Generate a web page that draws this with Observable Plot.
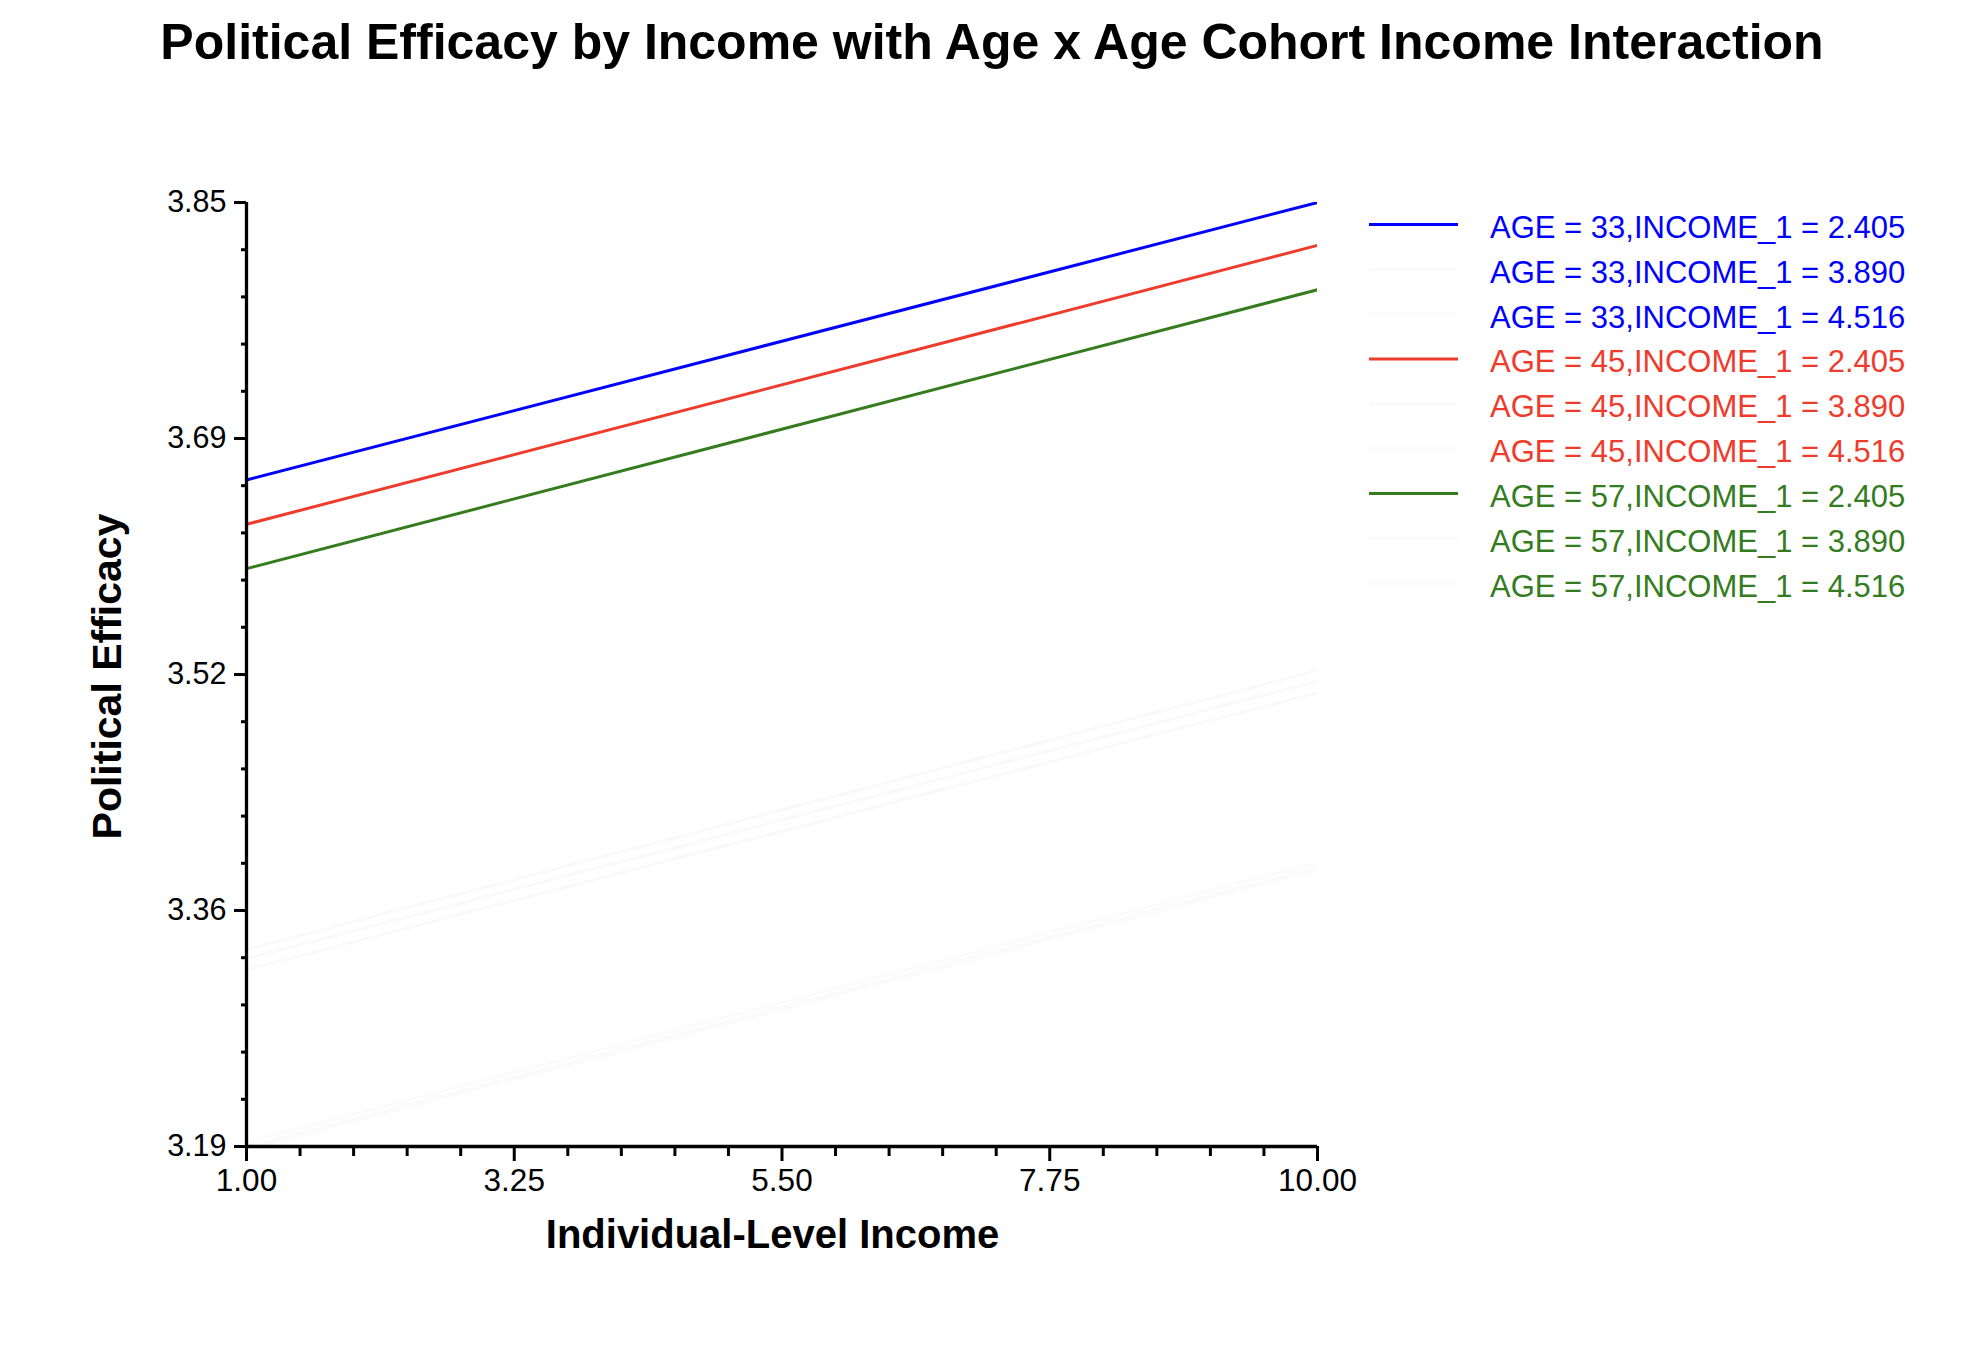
<!DOCTYPE html>
<html><head><meta charset="utf-8">
<script src="https://cdn.jsdelivr.net/npm/d3@7"></script>
<script src="https://cdn.jsdelivr.net/npm/@observablehq/plot@0.6"></script>
<style>
html,body{margin:0;padding:0;background:#fff;}
#wrap{position:relative;width:1966px;height:1350px;font-family:"Liberation Sans",Arial,Helvetica,sans-serif;}
#wrap svg{position:absolute;left:0;top:0;}
</style></head><body><div id="wrap"></div>
<script>
// ---- data ----
const incomeX = [1, 10];
const seriesLabels = [
  "AGE = 33,INCOME_1 = 2.405", "AGE = 33,INCOME_1 = 3.890", "AGE = 33,INCOME_1 = 4.516",
  "AGE = 45,INCOME_1 = 2.405", "AGE = 45,INCOME_1 = 3.890", "AGE = 45,INCOME_1 = 4.516",
  "AGE = 57,INCOME_1 = 2.405", "AGE = 57,INCOME_1 = 3.890", "AGE = 57,INCOME_1 = 4.516"
];
const seriesStart = [3.656, 3.3278, 3.193, 3.625, 3.3213, 3.190, 3.594, 3.3136, 3.188];
const seriesEnd   = [3.850, 3.5229, 3.3884, 3.820, 3.5152, 3.3853, 3.789, 3.5073, 3.3835];
const lineColors = ["#0000ff", "#f9f9f9", "#fbfbfb", "#ef3b2c", "#f9f9f9", "#fbfbfb", "#357c1f", "#f9f9f9", "#fbfbfb"];
const textColors = ["#0000ff", "#0000ff", "#0000ff", "#ef3b2c", "#ef3b2c", "#ef3b2c", "#357c1f", "#357c1f", "#357c1f"];
const yTicks = [3.19, 3.355, 3.52, 3.685, 3.85];
const yTickLabels = ["3.19", "3.36", "3.52", "3.69", "3.85"];
const xTicks = [1, 3.25, 5.5, 7.75, 10];
const xTickLabels = ["1.00", "3.25", "5.50", "7.75", "10.00"];
const titleText = "Political Efficacy by Income with Age x Age Cohort Income Interaction";
const xLabel = "Individual-Level Income";
const yLabel = "Political Efficacy";

// ---- derived ----
const rows = seriesLabels.flatMap((s, i) => [
  {series: s, x: incomeX[0], y: seriesStart[i]},
  {series: s, x: incomeX[1], y: seriesEnd[i]}
]);
const minor = (ticks) => {
  const out = [];
  for (let i = 0; i < ticks.length - 1; i++) {
    const a = ticks[i], b = ticks[i + 1];
    for (let k = 1; k < 5; k++) out.push(a + (b - a) * k / 5);
  }
  return out;
};
const xMap = new Map(xTicks.map((d, i) => [d, xTickLabels[i]]));
const yMap = new Map(yTicks.map((d, i) => [d, yTickLabels[i]]));
const font = '"Liberation Sans", Arial, Helvetica, sans-serif';

const W = 1966, H = 1350;
const mL = 246, mR = 649, mT = 202, mB = 204;

const chart = Plot.plot({
  width: W, height: H,
  marginLeft: mL, marginRight: mR, marginTop: mT, marginBottom: mB,
  style: {fontFamily: font, background: "transparent", color: "#000", overflow: "visible"},
  x: {domain: [1, 10], label: null},
  y: {domain: [3.19, 3.85], label: null},
  color: {domain: seriesLabels, range: lineColors},
  marks: [
    Plot.line(rows, {x: "x", y: "y", z: "series", stroke: "series", strokeWidth: 3, clip: true}),
    Plot.axisX({ticks: minor(xTicks), tickSize: 10, text: null, strokeWidth: 3, label: null}),
    Plot.axisX({ticks: xTicks, tickSize: 15, tickPadding: 7, tickFormat: d => xMap.get(d), fontSize: 31.5, strokeWidth: 3, label: null}),
    Plot.axisY({ticks: minor(yTicks), tickSize: 7, dx: 2, text: null, strokeWidth: 3, label: null}),
    Plot.axisY({ticks: yTicks, tickSize: 12, tickPadding: 8, tickFormat: d => yMap.get(d), fontSize: 30.5, strokeWidth: 3, label: null}),
    Plot.ruleX([1], {strokeWidth: 3.3}),
    Plot.ruleY([3.19], {strokeWidth: 3.3})
  ]
});
const wrap = document.getElementById("wrap");
wrap.appendChild(chart);

// ---- overlay: title, axis labels, legend ----
const svg = d3.select(wrap).append("svg")
  .attr("width", W).attr("height", H)
  .style("font-family", font);

svg.append("text").attr("x", 992).attr("y", 59)
  .attr("text-anchor", "middle").attr("font-size", 50).attr("font-weight", "bold")
  .text(titleText);

svg.append("text").attr("x", 772.5).attr("y", 1248)
  .attr("text-anchor", "middle").attr("font-size", 40).attr("font-weight", "bold")
  .text(xLabel);

svg.append("text").attr("transform", "translate(121,676.5) rotate(-90)")
  .attr("text-anchor", "middle").attr("font-size", 41).attr("font-weight", "bold")
  .text(yLabel);

const leg = svg.append("g");
seriesLabels.forEach((s, i) => {
  const y = 224.4 + i * 44.85;
  leg.append("line").attr("x1", 1369).attr("x2", 1458).attr("y1", y).attr("y2", y)
    .attr("stroke", lineColors[i]).attr("stroke-width", 3);
  leg.append("text").attr("x", 1490).attr("y", y + 13.5)
    .attr("font-size", 31).attr("fill", textColors[i]).text(s);
});
</script>
</body></html>
